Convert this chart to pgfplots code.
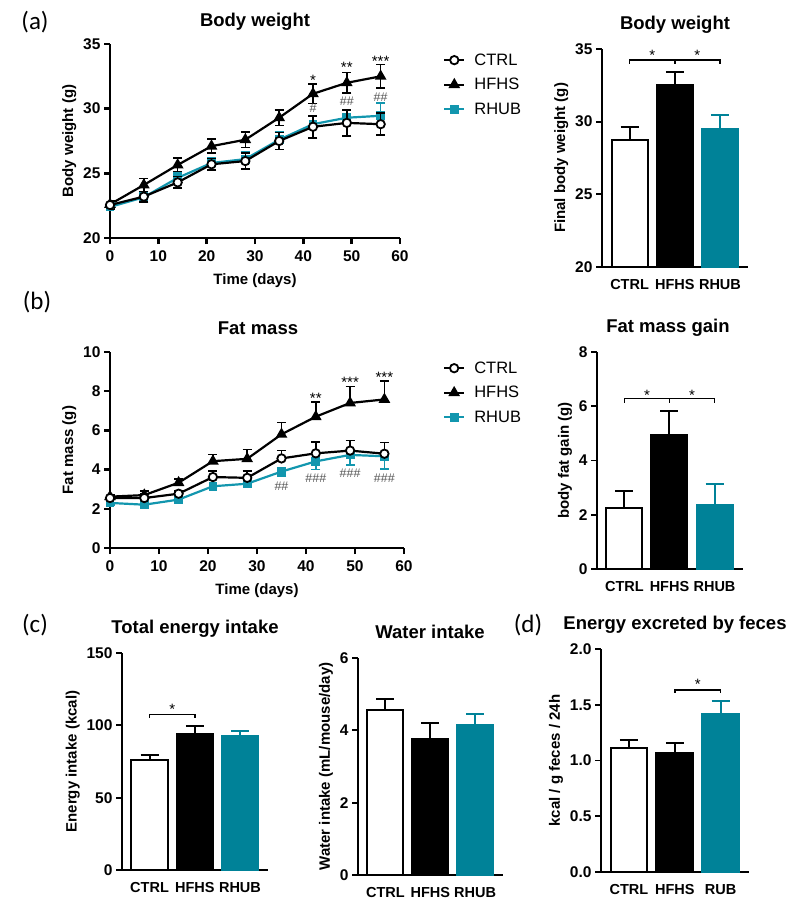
\documentclass[border=0pt]{standalone}
\usepackage{fontspec}
\setmainfont{Liberation Sans}
\newfontfamily\carlito{Carlito}
\usepackage{pgfplots}
\pgfplotsset{compat=1.18}
\definecolor{tealbar}{RGB}{0,130,152}
\definecolor{tealline}{RGB}{18,150,174}
\definecolor{hashgray}{RGB}{85,85,85}
\newcommand{\fs}[1]{\fontsize{#1}{#1}\selectfont}

\pgfplotsset{
  prism/.style={
    scale only axis, anchor=south west,
    axis x line*=bottom, axis y line*=left,
    axis line style={line width=2.5pt,-},
    tick style={line width=2.5pt,black},
    tick align=outside, major tick length=6pt,
    enlargelimits=false, clip mode=individual,
    /pgf/number format/assume math mode=true,
    ticklabel style={font=\bfseries\fs{15.5}},
    xticklabel style={yshift=-3pt},
    label style={font=\bfseries\fs{15}},
    xlabel style={yshift=-5pt},
  },
  bars/.style={prism,
    xmin=-0.61, xmax=2.62,
    xtick={0,1,2}, xticklabels={CTRL,HFHS,RHUB},
    xticklabel style={font=\bfseries\fs{14.5}},
    major x tick style={draw=none},
    axis line style={line width=1.7pt,-},
    tick style={line width=1.7pt,black},
  },
  barplot/.style 2 args={ybar, bar shift=0pt, bar width=0.8, fill=#1, draw=#2, line width=2pt,
    error bars/.cd, y dir=plus, y explicit, error mark=|,
    error bar style={line width=2pt,#2},
    error mark options={line width=2pt,mark size=9pt,#2}},
  ctrlL/.style={black, line width=2.2pt, mark=*, mark size=4.2pt,
    mark options={fill=white, draw=black, line width=1.8pt}},
  hfhsL/.style={black, line width=2.2pt, mark=triangle*, mark size=4.6pt,
    mark options={fill=black}},
  rhubL/.style={tealline, line width=2.2pt, mark=square*, mark size=3.3pt,
    mark options={fill=tealline}},
  ebars/.style={error bars/.cd, y dir=#1, y explicit, error mark=|,
    error bar style={line width=1.6pt},
    error mark options={line width=1.6pt, mark size=4.5pt}},
  leg/.style={
    legend image code/.code={\draw[mark repeat=2,mark phase=2,##1] plot coordinates {(0pt,0pt) (10pt,0pt) (20pt,0pt)};},
    legend cell align=left,
    legend style={at={#1}, anchor=north west, draw=none, fill=none, font=\fs{16.5},
      row sep=7.5pt, column sep=7pt},
  },
}

\begin{document}
\begin{tikzpicture}
\path[use as bounding box] (0pt,0pt) rectangle (799pt,-912pt);

% panel letters and titles
\node[font=\carlito\fs{25}] at (35pt,-22pt) {(a)};
\node[font=\carlito\fs{25}] at (37pt,-302pt) {(b)};
\node[font=\carlito\fs{25}] at (35pt,-625pt) {(c)};
\node[font=\carlito\fs{25}] at (528pt,-625pt) {(d)};
\node[font=\bfseries\fs{18.5}] at (255pt,-22pt) {Body weight};
\node[font=\bfseries\fs{18.5}] at (675pt,-25pt) {Body weight};
\node[font=\bfseries\fs{18.5}] at (258pt,-328pt) {Fat mass};
\node[font=\bfseries\fs{18.5}] at (668pt,-328pt) {Fat mass gain};
\node[font=\bfseries\fs{18.5}] at (195pt,-629pt) {Total energy intake};
\node[font=\bfseries\fs{18.5}] at (430pt,-632pt) {Water intake};
\node[font=\bfseries\fs{18.5}] at (675pt,-625pt) {Energy excreted by feces};

% (a) body weight over time
\begin{axis}[prism, at={(110pt,-238pt)}, width=290pt, height=194pt,
  xmin=0, xmax=60, ymin=20, ymax=35,
  xtick={0,10,...,60}, ytick={20,25,30,35},
  xlabel={Time (days)}, ylabel={Body weight (g)},
  leg={(1.138,0.972)}]
\addplot[hfhsL, forget plot, ebars=both] coordinates {
  (0,22.6) +- (0,0.3) (7,24.1) +- (0,0.5) (14,25.65) +- (0,0.55) (21,27.1) +- (0,0.55)
  (28,27.6) +- (0,0.6) (35,29.3) +- (0,0.6) (42,31.15) +- (0,0.75) (49,32.0) +- (0,0.8)
  (56,32.5) +- (0,0.9)};
\addplot[rhubL, forget plot, ebars=plus] coordinates {
  (0,22.4) +- (0,0.3) (7,23.15) +- (0,0.35) (14,24.65) +- (0,0.4) (21,25.8) +- (0,0.4)
  (28,26.1) +- (0,0.55) (35,27.6) +- (0,0.6) (42,28.8) +- (0,0.6) (49,29.3) +- (0,0.65)
  (56,29.45) +- (0,1.0)};
\addplot[ctrlL, forget plot, ebars=both] coordinates {
  (0,22.55) +- (0,0.35) (7,23.2) +- (0,0.4) (14,24.3) +- (0,0.45) (21,25.7) +- (0,0.45)
  (28,25.95) +- (0,0.6) (35,27.5) +- (0,0.65) (42,28.6) +- (0,0.85) (49,28.9) +- (0,1.0)
  (56,28.8) +- (0,0.85)};
\addlegendimage{ctrlL}\addlegendentry{CTRL}
\addlegendimage{hfhsL}\addlegendentry{HFHS}
\addlegendimage{rhubL}\addlegendentry{RHUB}
\node[font=\fs{15}, anchor=base, yshift=-8.5pt] at (axis cs:42,32.45) {*};
\node[font=\fs{15}, anchor=base, yshift=-8.5pt] at (axis cs:49,33.45) {**};
\node[font=\fs{15}, anchor=base, yshift=-8.5pt] at (axis cs:56,33.9) {***};
\node[font=\fs{12.5}, text=hashgray] at (axis cs:42,30.05) {\#};
\node[font=\fs{12.5}, text=hashgray] at (axis cs:49,30.6) {\#\#};
\node[font=\fs{12.5}, text=hashgray] at (axis cs:56,30.9) {\#\#};
\end{axis}

% (a) final body weight
\begin{axis}[bars, at={(602pt,-267pt)}, width=146pt, height=218pt,
  ymin=20, ymax=35, ytick={20,25,30,35}, ylabel={Final body weight (g)}]
\addplot[barplot={white}{black}] coordinates {(0,28.75) +- (0,0.9)};
\addplot[barplot={black}{black}] coordinates {(1,32.55) +- (0,0.9)};
\addplot[barplot={tealbar}{tealbar}] coordinates {(2,29.47) +- (0,1.0)};
\draw[line width=1.5pt] (axis cs:0,34.0) |- (axis cs:1,34.24) -- (axis cs:1,34.0);
\draw[line width=1.5pt] (axis cs:1,34.24) -| (axis cs:2,34.0);
\node[font=\fs{15}, anchor=base, yshift=-8.5pt] at (axis cs:0.5,34.8) {*};
\node[font=\fs{15}, anchor=base, yshift=-8.5pt] at (axis cs:1.5,34.8) {*};
\end{axis}

% (b) fat mass over time
\begin{axis}[prism, at={(110pt,-548pt)}, width=294pt, height=196pt,
  xmin=0, xmax=60, ymin=0, ymax=10,
  xtick={0,10,...,60}, ytick={0,2,...,10},
  xlabel={Time (days)}, ylabel={Fat mass (g)},
  leg={(1.122,0.972)}]
\addplot[hfhsL, forget plot, ebars=plus] coordinates {
  (0,2.62) +- (0,0.12) (7,2.7) +- (0,0.22) (14,3.33) +- (0,0.2) (21,4.43) +- (0,0.34)
  (28,4.55) +- (0,0.47) (35,5.8) +- (0,0.6) (42,6.7) +- (0,0.75) (49,7.4) +- (0,0.84)
  (56,7.58) +- (0,0.95)};
\addplot[rhubL, forget plot, ebars=minus] coordinates {
  (0,2.3) +- (0,0.1) (7,2.21) +- (0,0.1) (14,2.47) +- (0,0.1) (21,3.15) +- (0,0.12)
  (28,3.28) +- (0,0.12) (35,3.9) +- (0,0.26) (42,4.42) +- (0,0.42) (49,4.75) +- (0,0.5)
  (56,4.68) +- (0,0.65)};
\addplot[ctrlL, forget plot, ebars=plus] coordinates {
  (0,2.55) +- (0,0.15) (7,2.55) +- (0,0.2) (14,2.77) +- (0,0.15) (21,3.62) +- (0,0.32)
  (28,3.58) +- (0,0.34) (35,4.57) +- (0,0.4) (42,4.83) +- (0,0.57) (49,4.97) +- (0,0.52)
  (56,4.81) +- (0,0.57)};
\addlegendimage{ctrlL}\addlegendentry{CTRL}
\addlegendimage{hfhsL}\addlegendentry{HFHS}
\addlegendimage{rhubL}\addlegendentry{RHUB}
\node[font=\fs{15}, anchor=base, yshift=-8.5pt] at (axis cs:42,7.81) {**};
\node[font=\fs{15}, anchor=base, yshift=-8.5pt] at (axis cs:49,8.6) {***};
\node[font=\fs{15}, anchor=base, yshift=-8.5pt] at (axis cs:56,8.88) {***};
\node[font=\fs{12.5}, text=hashgray] at (axis cs:35,3.13) {\#\#};
\node[font=\fs{12.5}, text=hashgray] at (axis cs:42,3.55) {\#\#\#};
\node[font=\fs{12.5}, text=hashgray] at (axis cs:49,3.81) {\#\#\#};
\node[font=\fs{12.5}, text=hashgray] at (axis cs:56,3.55) {\#\#\#};
\end{axis}

% (b) fat mass gain
\begin{axis}[bars, at={(597pt,-569pt)}, width=146pt, height=217pt,
  xmin=-0.61, xmax=2.633,
  ymin=0, ymax=8, ytick={0,2,...,8}, ylabel={body fat gain (g)}]
\addplot[barplot={white}{black}] coordinates {(0,2.24) +- (0,0.62)};
\addplot[barplot={black}{black}] coordinates {(1,4.93) +- (0,0.88)};
\addplot[barplot={tealbar}{tealbar}] coordinates {(2,2.36) +- (0,0.77)};
\draw[line width=1.5pt] (axis cs:0,6.13) |- (axis cs:1,6.29) -- (axis cs:1,6.13);
\draw[line width=1.5pt] (axis cs:1,6.29) -| (axis cs:2,6.13);
\node[font=\fs{15}, anchor=base, yshift=-8.5pt] at (axis cs:0.5,6.54) {*};
\node[font=\fs{15}, anchor=base, yshift=-8.5pt] at (axis cs:1.5,6.54) {*};
\end{axis}

% (c) total energy intake
\begin{axis}[bars, at={(122pt,-870pt)}, width=146pt, height=217pt,
  ymin=0, ymax=150, ytick={0,50,100,150}, ylabel={Energy intake (kcal)}]
\addplot[barplot={white}{black}] coordinates {(0,76) +- (0,3.5)};
\addplot[barplot={black}{black}] coordinates {(1,94.2) +- (0,5.3)};
\addplot[barplot={tealbar}{tealbar}] coordinates {(2,92.6) +- (0,3.2)};
\draw[line width=1.5pt] (axis cs:0,105.3) |- (axis cs:1,107.6) -- (axis cs:1,105.3);
\node[font=\fs{15}, anchor=base, yshift=-8.5pt] at (axis cs:0.5,113.6) {*};
\end{axis}

% (c) water intake
\begin{axis}[bars, at={(358pt,-875pt)}, width=145pt, height=217pt,
  ymin=0, ymax=6, ytick={0,2,4,6}, ylabel={Water intake (mL/mouse/day)}]
\addplot[barplot={white}{black}] coordinates {(0,4.56) +- (0,0.31)};
\addplot[barplot={black}{black}] coordinates {(1,3.75) +- (0,0.46)};
\addplot[barplot={tealbar}{tealbar}] coordinates {(2,4.15) +- (0,0.29)};
\end{axis}

% (d) energy excreted by feces
\begin{axis}[bars, at={(601pt,-872pt)}, width=148pt, height=223pt,
  xticklabels={CTRL,HFHS,RUB},
  ymin=0, ymax=2, ytick={0,0.5,...,2},
  yticklabel style={/pgf/number format/.cd, fixed, fixed zerofill, precision=1},
  ylabel={kcal / g feces / 24h}]
\addplot[barplot={white}{black}] coordinates {(0,1.11) +- (0,0.07)};
\addplot[barplot={black}{black}] coordinates {(1,1.065) +- (0,0.09)};
\addplot[barplot={tealbar}{tealbar}] coordinates {(2,1.415) +- (0,0.12)};
\draw[line width=1.5pt] (axis cs:1,1.608) |- (axis cs:2,1.632) -- (axis cs:2,1.608);
\node[font=\fs{15}, anchor=base, yshift=-8.5pt] at (axis cs:1.5,1.71) {*};
\end{axis}
\end{tikzpicture}
\end{document}
